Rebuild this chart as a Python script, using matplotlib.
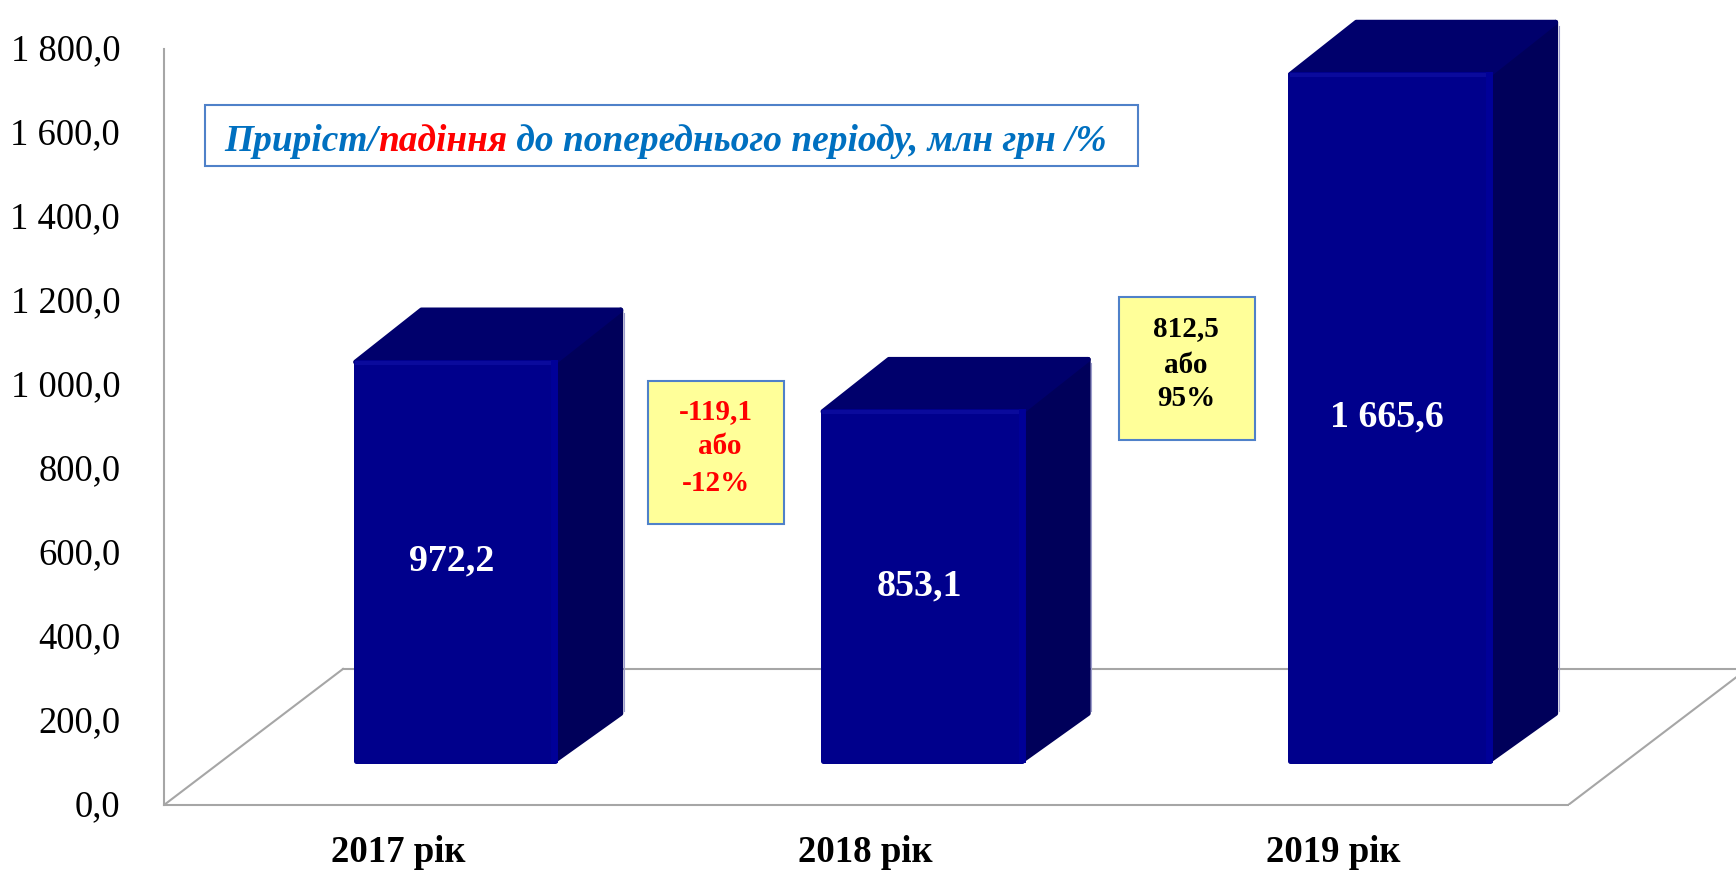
import matplotlib
matplotlib.use("Agg")
import matplotlib.pyplot as plt
from matplotlib.patches import Rectangle, Polygon
from matplotlib.transforms import ScaledTranslation

plt.rcParams['font.family'] = ['Liberation Serif', 'DejaVu Sans']

W, H = 1736, 872

categories = ["2017 рік", "2018 рік", "2019 рік"]
values = [972.2, 853.1, 1665.6]
y_ticks = [0, 200, 400, 600, 800, 1000, 1200, 1400, 1600, 1800]
y_labels = ["0,0", "200,0", "400,0", "600,0", "800,0", "1 000,0", "1 200,0", "1 400,0", "1 600,0", "1 800,0"]
change_labels = [["-119,1", "або", "-12%"], ["812,5", "або", "95%"]]
title_parts = [("Приріст/", "#0070C0"), ("падіння", "#FF0000"), (" до попереднього періоду, млн грн /%", "#0070C0")]

# the 3d look, in data units
bar_w = 0.437
depth_x = 0.141
depth_y = 124
base = 100
shrink = 0.988
floor_x = 0.383
floor_y = 324
floor_end = 2.381
x_left = -0.623
x_right = 2.74

# one pixel in data units, the faces are inset by this and stroked with round joins
in_x = 2.5 * (x_right - x_left) / (W - 164)
in_y = 2.5 * 1800 / 756
edge_lw = 3.6


def px(x, y):
    return x / W, 1 - y / H


def fmt(v):
    return f"{v:,.1f}".replace(",", " ").replace(".", ",")


fig = plt.figure(figsize=(W / 100, H / 100), dpi=100, facecolor="white")
ax = fig.add_axes([164 / W, (H - 805) / H, (W - 164) / W, 756 / H])
ax.set_xlim(x_left, x_right)
ax.set_ylim(0, 1800)

for s in ["top", "right", "bottom"]:
    ax.spines[s].set_visible(False)
ax.spines["left"].set_color("#A6A6A6")
ax.spines["left"].set_linewidth(1.5)

# floor of the chart
grey = dict(color="#A6A6A6", lw=1.5, zorder=1)
ax.plot([x_left, floor_end], [0, 0], clip_on=False, **grey)
ax.plot([x_left, x_left + floor_x], [0, floor_y], **grey)
ax.plot([x_left + floor_x, x_right], [floor_y, floor_y], **grey)
ax.plot([floor_end, floor_end + floor_x], [0, floor_y], **grey)

x_pos = list(range(len(values)))
tops = [base + v * shrink for v in values]

for x, t, v in zip(x_pos, tops, values):
    xl, xr = x - bar_w / 2, x + bar_w / 2
    side = [(xr - in_x, base + in_y), (xr + depth_x - in_x, base + depth_y - in_y),
            (xr + depth_x - in_x, t + depth_y - in_y), (xr - in_x, t - in_y)]
    top = [(xl + in_x, t - in_y), (xl + depth_x + in_x, t + depth_y - in_y),
           (xr + depth_x - in_x, t + depth_y - in_y), (xr - in_x, t - in_y)]
    ax.add_patch(Polygon(side, closed=True, fc="#00005A", ec="#00005A", lw=edge_lw, joinstyle="round", zorder=2, clip_on=False))
    ax.add_patch(Polygon(top, closed=True, fc="#00006C", ec="#00006C", lw=edge_lw, joinstyle="round", zorder=2, clip_on=False))
    ax.plot([xr + depth_x + 0.001] * 2, [base + depth_y, t + depth_y - 14], color="#9C9CCB", lw=0.8, zorder=2, clip_on=False)

bars = ax.bar(x_pos, [t - base - 2 * in_y for t in tops], bottom=base + in_y, width=bar_w - 2 * in_x,
              color="#00008C", edgecolor="#00008C", linewidth=edge_lw, zorder=3, clip_on=False)
for b in bars:
    b.set_joinstyle("round")

for x, t, v in zip(x_pos, tops, values):
    xl, xr = x - bar_w / 2, x + bar_w / 2
    # lighter bevel along the front face
    ax.plot([xl + 0.008, xr - 0.006], [t - 8, t - 8], color="#0A0A9C", lw=3, zorder=4, clip_on=False)
    ax.plot([xr - 0.007, xr - 0.007], [base + 10, t - 8], color="#000098", lw=5, zorder=4, clip_on=False)
    ax.text(x - 0.007, base + (t - base) / 2, fmt(v), color="white", fontsize=27.4, fontweight="bold",
            ha="center", va="center", zorder=5)

ax.set_yticks(y_ticks)
ax.set_yticklabels(y_labels, fontsize=26.3, color="black")
ax.tick_params(axis="y", length=0, pad=31.5)
up = ScaledTranslation(0, 2 / 100, fig.dpi_scale_trans)
for lab in ax.get_yticklabels():
    lab.set_transform(lab.get_transform() + up)

ax.set_xticks([x - 0.122 for x in x_pos])
ax.set_xticklabels(categories, fontsize=26.5, fontweight="bold", color="black")
ax.tick_params(axis="x", length=0, pad=21.5)

# legend like caption box
x0, y0 = px(205, 166)
fig.add_artist(Rectangle((x0, y0), (1138 - 205) / W, 61 / H, transform=fig.transFigure,
                         fc="white", ec="#4F81C9", lw=1.5, zorder=6))
renderer = fig.canvas.get_renderer()
cur = 224
for part, col in title_parts:
    tx, ty = px(cur, 151)
    t = fig.text(tx, ty, part, color=col, fontsize=26.9, fontweight="bold", fontstyle="italic",
                 ha="left", va="baseline", zorder=7)
    cur = cur + t.get_window_extent(renderer).width

# change boxes
boxes = [(648, 381, 136, 143), (1119, 297, 136, 143)]
line_ys = [[412, 447, 483], [329, 365, 398]]
line_xs = [[716, 720, 716], [1186, 1186, 1186]]
box_cols = ["#FF0000", "black"]
for (bx, by, bw, bh), lines, ys, xs, col in zip(boxes, change_labels, line_ys, line_xs, box_cols):
    x0, y0 = px(bx, by + bh)
    fig.add_artist(Rectangle((x0, y0), bw / W, bh / H, transform=fig.transFigure,
                             fc="#FFFF99", ec="#4F81C9", lw=1.5, zorder=6))
    for line, ly, lx in zip(lines, ys, xs):
        tx, ty = px(lx, ly)
        fig.text(tx, ty, line, color=col, fontsize=21, fontweight="bold", ha="center", va="center", zorder=7)

fig.savefig("out.png", dpi=100)
